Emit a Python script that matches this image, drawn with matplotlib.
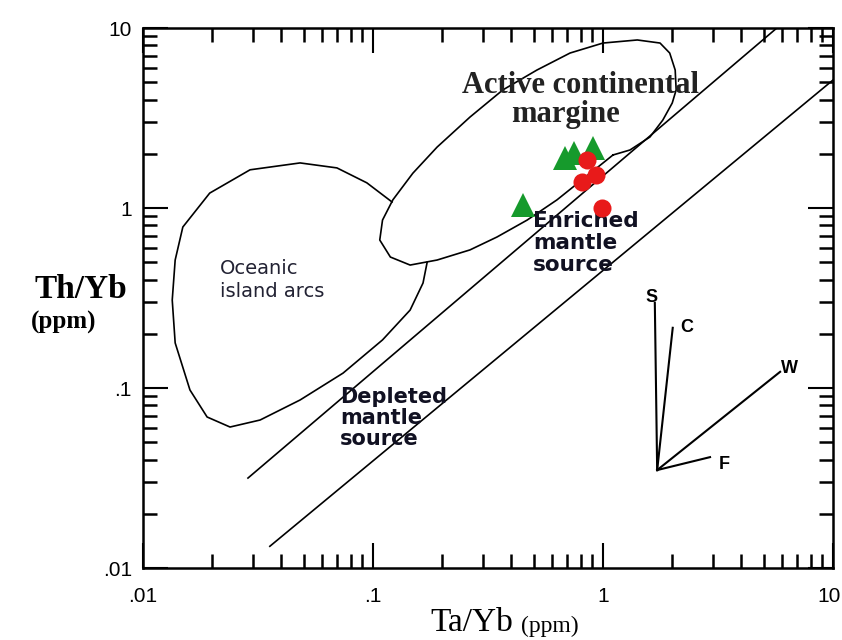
import numpy as np
import matplotlib.pyplot as plt
import matplotlib.transforms as mtransforms
from matplotlib.ticker import FixedLocator, FixedFormatter, LogLocator, NullFormatter

# Th/Yb vs Ta/Yb diagram (Pearce 1983 style)

# sample data
tri_x = [0.684, 0.748, 0.905, 0.449]
tri_y = [1.90, 2.02, 2.15, 1.04]
circ_x = [0.851, 0.933, 0.811, 0.99]
circ_y = [1.85, 1.53, 1.39, 1.00]

# mantle array lines
upper_x = [0.0286, 5.7]
upper_y = [0.0316, 10.0]
lower_x = [0.0356, 10.0]
lower_y = [0.0132, 5.14]

# active continental margin outline
acm_x = [1.105, 0.631, 0.468, 0.346, 0.264, 0.190, 0.145, 0.119, 0.107, 0.110,
         0.122, 0.149, 0.190, 0.264, 0.367, 0.516, 0.719, 1.0, 1.41, 1.77,
         1.95, 2.06, 2.08, 2.0, 1.82, 1.60, 1.31, 1.105]
acm_y = [1.97, 1.11, 0.857, 0.690, 0.585, 0.514, 0.482, 0.534, 0.664, 0.857,
         1.11, 1.56, 2.18, 3.20, 4.53, 5.84, 7.26, 8.25, 8.58, 8.25,
         7.26, 5.84, 4.53, 3.83, 3.08, 2.48, 2.10, 1.97]

# oceanic island arcs outline
oia_x = [0.121, 0.094, 0.0697, 0.0482, 0.0292, 0.0195, 0.0149, 0.0138, 0.0134,
         0.0138, 0.016, 0.019, 0.0239, 0.0323, 0.0482, 0.0741, 0.110, 0.145,
         0.165, 0.172]
oia_y = [1.08, 1.38, 1.67, 1.78, 1.63, 1.21, 0.784, 0.514, 0.308,
         0.178, 0.0975, 0.069, 0.0607, 0.0664, 0.0858, 0.121, 0.185, 0.271,
         0.383, 0.50]

# vectors (subduction S, crustal C, within-plate W, fractional crystallisation F)
vec_origin = (1.72, 0.035)
vec_names = ['S', 'C', 'W', 'F']
vec_end_x = [1.68, 2.01, 5.89, 2.92]
vec_end_y = [0.297, 0.216, 0.123, 0.0413]
vec_lab_x = [1.62, 2.32, 6.45, 3.36]
vec_lab_y = [0.32, 0.218, 0.129, 0.0378]

major_ticks = [0.01, 0.1, 1, 10]
major_labels = ['.01', '.1', '1', '10']

fig = plt.figure(figsize=(8.42, 6.4), dpi=100)
ax = fig.add_axes([143/842, 1-568/640, 690/842, 540/640])
ax.set_xscale('log')
ax.set_yscale('log')
ax.set_xlim(0.01, 10)
ax.set_ylim(0.01, 10)

lw = 1.2
ax.plot(upper_x, upper_y, color='black', lw=lw)
ax.plot(lower_x, lower_y, color='black', lw=lw)
ax.plot(acm_x, acm_y, color='black', lw=lw)
ax.plot(oia_x, oia_y, color='black', lw=lw)

for i in range(len(vec_names)):
    ax.plot([vec_origin[0], vec_end_x[i]], [vec_origin[1], vec_end_y[i]],
            color='black', lw=1.5)
    ax.text(vec_lab_x[i], vec_lab_y[i], vec_names[i], fontsize=13,
            fontweight='bold', ha='center', va='center', family='Liberation Sans')

ax.plot(tri_x, tri_y, '^', color='#169a2c', markersize=17, markeredgewidth=0, zorder=5)
ax.plot(circ_x, circ_y, 'o', color='#e81a1a', markersize=13, markeredgewidth=0, zorder=6)

# field labels
ax.text(0.80, 4.82, 'Active continental', fontsize=22, fontweight='bold',
        family='Liberation Serif', ha='center', va='center', color='#222222')
ax.text(0.69, 3.29, 'margine', fontsize=22, fontweight='bold',
        family='Liberation Serif', ha='center', va='center', color='#222222')
ax.text(0.0216, 0.398, 'Oceanic\nisland arcs', fontsize=14, ha='left', va='center',
        linespacing=1.25, color='#222233')
ax.text(0.0719, 0.0681, 'Depleted\nmantle\nsource', fontsize=15, fontweight='bold',
        ha='left', va='center', linespacing=1.05, color='#111122')
ax.text(0.497, 0.639, 'Enriched\nmantle\nsource', fontsize=15.5, fontweight='bold',
        ha='left', va='center', linespacing=1.12, color='#111122')

# axes styling
for sp in ax.spines.values():
    sp.set_linewidth(1.8)
for axis in (ax.xaxis, ax.yaxis):
    axis.set_major_locator(FixedLocator(major_ticks))
    axis.set_major_formatter(FixedFormatter(major_labels))
    axis.set_minor_locator(LogLocator(base=10, subs=np.arange(2, 10)))
    axis.set_minor_formatter(NullFormatter())
ax.tick_params(which='both', direction='in', top=True, right=True)
ax.tick_params(which='major', length=18, width=1.5, labelsize=15)
ax.tick_params(which='minor', length=10, width=1.8)
ax.tick_params(axis='x', which='major', pad=14)
ax.tick_params(axis='y', which='major', pad=8)
for lab in ax.get_xticklabels() + ax.get_yticklabels():
    lab.set_family('Liberation Sans')
fig.canvas.draw()
last = ax.get_xticklabels()[-1]
last.set_ha('right')
last.set_transform(last.get_transform() +
                   mtransforms.ScaledTranslation(8/100, 0, fig.dpi_scale_trans))

# axis titles
fig.text(81/842, 1-290/640, 'Th/Yb', fontsize=24, fontweight='bold',
         family='Liberation Serif', ha='center', va='center')
fig.text(64/842, 1-322/640, '(ppm)', fontsize=18, fontweight='bold',
         family='Liberation Serif', ha='center', va='center')
fig.text(430/842, 1-623/640, 'Ta/Yb', fontsize=24,
         family='Liberation Serif', ha='left', va='center')
fig.text(521/842, 1-626/640, '(ppm)', fontsize=17,
         family='Liberation Serif', ha='left', va='center')

fig.savefig('out.png', dpi=100)
